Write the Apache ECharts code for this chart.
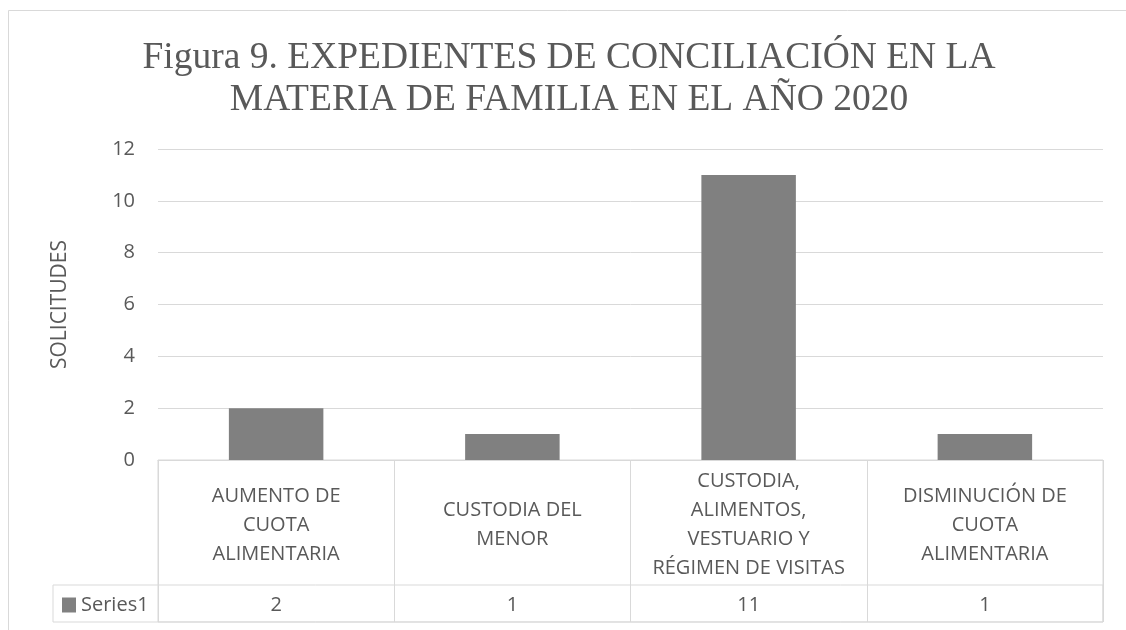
<!DOCTYPE html>
<html>
<head>
<meta charset="utf-8">
<script src="https://cdn.jsdelivr.net/npm/echarts@6/dist/echarts.min.js"></script>
<style>
    html, body { margin: 0; padding: 0; background: #fff; }
    #chart { width: 1126px; height: 630px; }
</style>
</head>
<body>
<div id="chart"></div>
<script>
var titleLines = ['Figura 9. EXPEDIENTES DE CONCILIACIÓN EN LA', 'MATERIA DE FAMILIA EN EL AÑO 2020'];
var categories = [
    'AUMENTO DE\nCUOTA\nALIMENTARIA',
    'CUSTODIA DEL\nMENOR',
    'CUSTODIA,\nALIMENTOS,\nVESTUARIO Y\nRÉGIMEN DE VISITAS',
    'DISMINUCIÓN DE\nCUOTA\nALIMENTARIA'
];
var seriesName = 'Series1';
var seriesValues = [2, 1, 11, 1];
var yTicks = [0, 2, 4, 6, 8, 10, 12];

var lineColor = '#d9d9d9';
var textColor = '#595959';
var sans = "'Open Sans', sans-serif";

var mychart = echarts.init(document.getElementById('chart'));

var option = {
    animation: false,
    backgroundColor: '#fff',
    title: {
        text: titleLines.join('\n'),
        left: 569,
        top: 37,
        padding: 0,
        textAlign: 'center',
        textStyle: {
            fontFamily: "'Liberation Serif', serif",
            fontSize: 37.5,
            fontWeight: 'normal',
            color: textColor,
            lineHeight: 42
        }
    },
    legend: {
        data: [seriesName],
        left: 62,
        top: 595,
        padding: 0,
        icon: 'rect',
        itemWidth: 14,
        itemHeight: 15,
        itemGap: 5,
        textStyle: { fontFamily: sans, fontSize: 20, color: textColor }
    },
    // frame of the chart area
    graphic: [{
        type: 'rect',
        shape: { x: 8.5, y: 10.5, width: 1300, height: 800 },
        style: { fill: 'none', stroke: lineColor, lineWidth: 1 },
        silent: true,
        z: -1
    }],
    grid: [
        // plot
        { left: 158, right: 23, top: 149, height: 311 },
        // table header cells
        { left: 158, right: 23, top: 460, height: 162, show: true, borderColor: lineColor, borderWidth: 1 },
        // value row incl. legend cell
        { left: 53, right: 23, top: 585, height: 37, show: true, borderColor: lineColor, borderWidth: 1 }
    ],
    xAxis: [
        {
            type: 'category',
            gridIndex: 0,
            data: categories,
            axisLine: { show: true, lineStyle: { color: lineColor } },
            axisTick: { show: false },
            axisLabel: {
                interval: 0,
                margin: 65,
                verticalAlign: 'middle',
                lineHeight: 29,
                fontFamily: sans,
                fontSize: 20,
                color: textColor
            }
        },
        {
            type: 'category',
            gridIndex: 0,
            position: 'bottom',
            data: seriesValues.map(String),
            axisLine: { show: false },
            axisTick: { show: false },
            axisLabel: {
                interval: 0,
                margin: 145,
                verticalAlign: 'middle',
                fontFamily: sans,
                fontSize: 20,
                color: textColor
            }
        },
        {
            type: 'category',
            gridIndex: 1,
            data: categories,
            axisLine: { show: false },
            axisTick: { show: false },
            axisLabel: { show: false },
            splitLine: { show: true, interval: 0, lineStyle: { color: lineColor } }
        },
        { type: 'value', gridIndex: 2, show: false }
    ],
    yAxis: [
        {
            type: 'value',
            gridIndex: 0,
            min: yTicks[0],
            max: yTicks[yTicks.length - 1],
            interval: 2,
            name: 'SOLICITUDES',
            nameLocation: 'middle',
            nameGap: 87,
            nameTextStyle: { fontFamily: sans, fontSize: 21, color: textColor },
            axisLine: { show: false },
            axisTick: { show: false },
            axisLabel: { margin: 23, fontFamily: sans, fontSize: 20, color: textColor },
            splitLine: { lineStyle: { color: lineColor } }
        },
        { type: 'value', gridIndex: 1, show: false },
        { type: 'value', gridIndex: 2, show: false }
    ],
    series: [{
        name: seriesName,
        type: 'bar',
        xAxisIndex: 0,
        yAxisIndex: 0,
        data: seriesValues,
        barCategoryGap: '60%',
        itemStyle: { color: '#808080' }
    }]
};
mychart.setOption(option);
window.addEventListener('resize', function () {
    mychart.resize();
});
</script>
</body>
</html>
